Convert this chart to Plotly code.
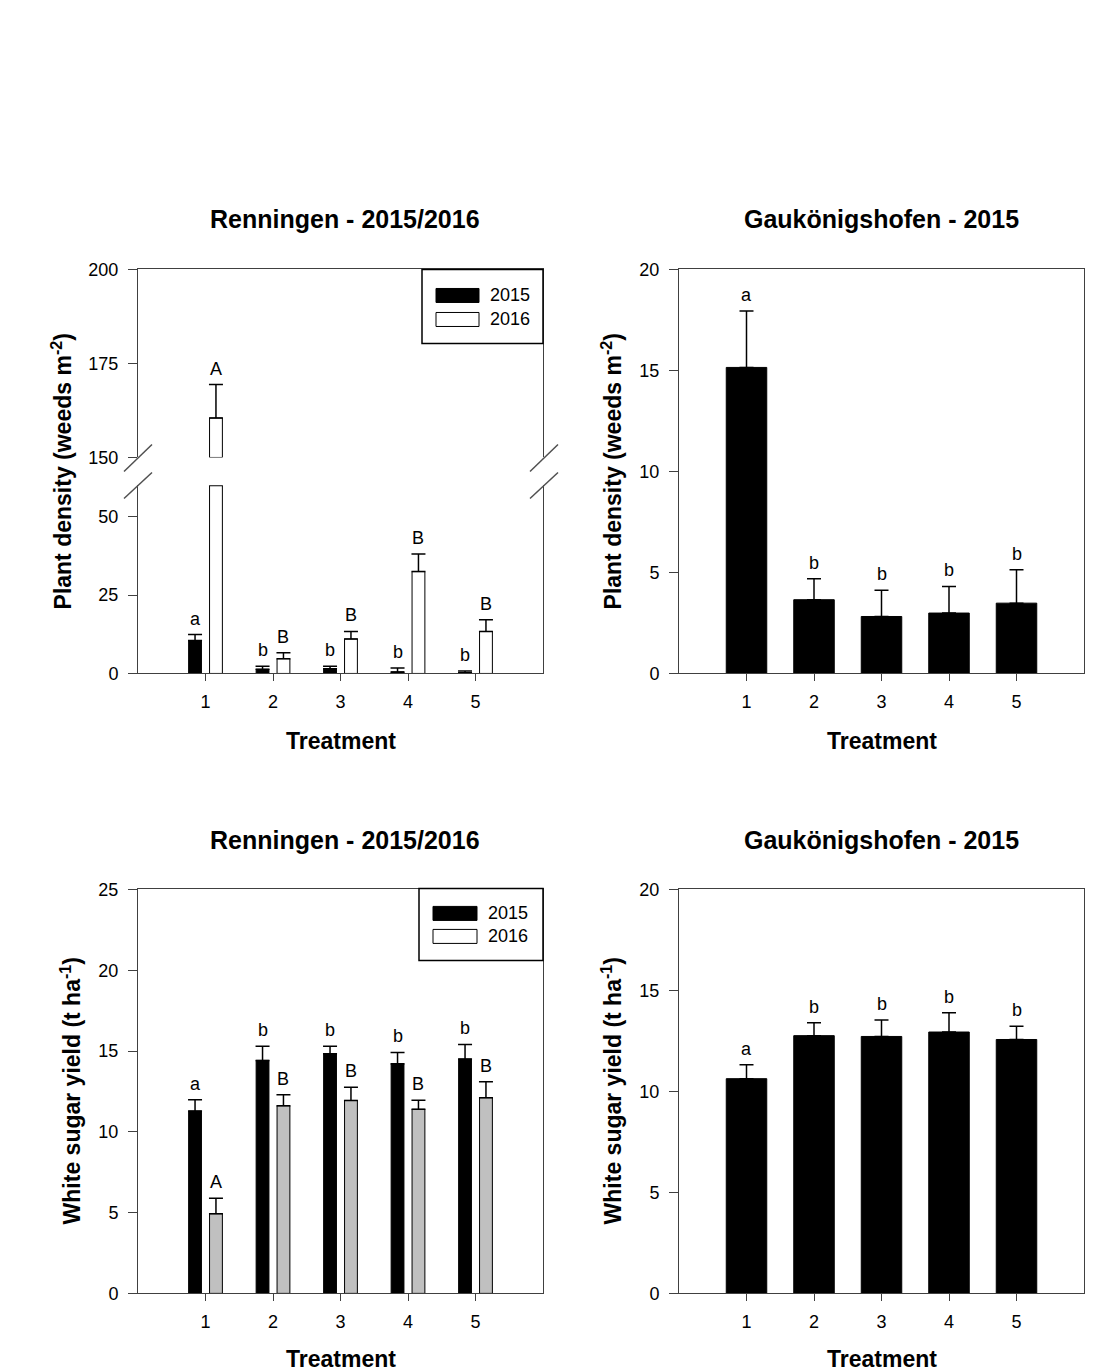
import plotly.graph_objects as go

W, H = 1114, 1371

# ---------------- data ----------------
treatments = [1, 2, 3, 4, 5]
tick_labels = ["1", "2", "3", "4", "5"]
years = ["2015", "2016"]

# Renningen - plant density (weeds m-2)
ren_dens_2015 = [10.5, 1.3, 1.5, 0.5, 0.2]
ren_dens_2015_se = [1.9, 1.0, 0.8, 1.2, 0.6]
ren_dens_2016 = [160.5, 4.7, 11.0, 32.5, 13.4]
ren_dens_2016_se = [8.9, 1.9, 2.4, 5.6, 3.7]
ren_dens_2015_letters = ["a", "b", "b", "b", "b"]
ren_dens_2016_letters = ["A", "B", "B", "B", "B"]

# Gaukönigshofen - plant density
gau_dens = [15.15, 3.65, 2.82, 2.99, 3.48]
gau_dens_se = [2.80, 1.04, 1.30, 1.32, 1.65]
gau_dens_letters = ["a", "b", "b", "b", "b"]

# Renningen - white sugar yield (t ha-1)
ren_yield_2015 = [11.28, 14.42, 14.83, 14.21, 14.50]
ren_yield_2015_se = [0.70, 0.88, 0.47, 0.70, 0.91]
ren_yield_2016 = [4.93, 11.61, 11.94, 11.39, 12.11]
ren_yield_2016_se = [0.95, 0.69, 0.81, 0.57, 0.99]
ren_yield_2015_letters = ["a", "b", "b", "b", "b"]
ren_yield_2016_letters = ["A", "B", "B", "B", "B"]

# Gaukönigshofen - white sugar yield
gau_yield = [10.63, 12.76, 12.72, 12.94, 12.57]
gau_yield_se = [0.69, 0.64, 0.81, 0.95, 0.66]
gau_yield_letters = ["a", "b", "b", "b", "b"]

# axis break for Renningen density
BREAK_LOW_MAX = 60
BREAK_HIGH_MIN = 150

# ---------------- styling ----------------
FONT = "Liberation Sans, Arial, sans-serif"
AXC = "#404040"
TICK_SIZE = 18
LET_SIZE = 18
LEG_SIZE = 18
TITLE_SIZE = 25
AXT_SIZE = 23

# vertical calibration of the rendered page
OFFY, SY = 9.5, 0.9855


def fx(px):
    return px / W


def fy(py):
    return 1 - ((py - OFFY) / SY) / H


fig = go.Figure()


def err(arr):
    return dict(type="data", array=arr, arrayminus=[0] * len(arr), symmetric=False,
                color="black", thickness=1.5, width=7)


OFF15, OFF16, BW = -0.25, 0.06, 0.19

# ---- Panel TL (broken axis) ----
low16 = [min(v, BREAK_LOW_MAX) for v in ren_dens_2016]
low16_err = [e if v <= BREAK_LOW_MAX else 0 for v, e in zip(ren_dens_2016, ren_dens_2016_se)]
hi16 = [(v - BREAK_HIGH_MIN) if v > BREAK_HIGH_MIN else None for v in ren_dens_2016]
hi16_err = [e if v > BREAK_HIGH_MIN else 0 for v, e in zip(ren_dens_2016, ren_dens_2016_se)]

fig.add_trace(go.Bar(x=treatments, y=ren_dens_2015, name="2015", width=BW, offset=OFF15,
                     marker=dict(color="black", line=dict(color="black", width=1)),
                     error_y=err(ren_dens_2015_se), xaxis="x", yaxis="y"))
fig.add_trace(go.Bar(x=treatments, y=low16, name="2016", width=BW, offset=OFF16,
                     marker=dict(color="white", line=dict(color="black", width=1)),
                     error_y=err(low16_err), xaxis="x", yaxis="y"))
fig.add_trace(go.Bar(x=treatments, y=hi16, base=[BREAK_HIGH_MIN] * 5, name="2016", width=BW,
                     offset=OFF16,
                     marker=dict(color="white", line=dict(color="black", width=1)),
                     error_y=err(hi16_err), xaxis="x2", yaxis="y2"))

# ---- Panel TR ----
fig.add_trace(go.Bar(x=treatments, y=gau_dens, name="2015", width=0.6,
                     marker=dict(color="black", line=dict(color="black", width=1)),
                     error_y=err(gau_dens_se), xaxis="x3", yaxis="y3"))

# ---- Panel BL ----
fig.add_trace(go.Bar(x=treatments, y=ren_yield_2015, name="2015", width=BW, offset=OFF15,
                     marker=dict(color="black", line=dict(color="black", width=1)),
                     error_y=err(ren_yield_2015_se), xaxis="x4", yaxis="y4"))
fig.add_trace(go.Bar(x=treatments, y=ren_yield_2016, name="2016", width=BW, offset=OFF16,
                     marker=dict(color="#c0c0c0", line=dict(color="black", width=1)),
                     error_y=err(ren_yield_2016_se), xaxis="x4", yaxis="y4"))

# ---- Panel BR ----
fig.add_trace(go.Bar(x=treatments, y=gau_yield, name="2015", width=0.6,
                     marker=dict(color="black", line=dict(color="black", width=1)),
                     error_y=err(gau_yield_se), xaxis="x5", yaxis="y5"))

# ---------------- axes ----------------
def xax(dom, anchor, mirror=True, ticks=True, side="bottom"):
    d = dict(domain=[fx(dom[0]), fx(dom[1])], anchor=anchor, range=[0, 6],
             tickvals=treatments, ticktext=tick_labels, showline=True, linecolor=AXC,
             linewidth=1, mirror=mirror, showgrid=False, zeroline=False, side=side,
             tickfont=dict(family=FONT, size=TICK_SIZE, color="black"))
    if ticks:
        d.update(ticks="outside", ticklen=7, tickwidth=1, tickcolor=AXC, ticklabelstandoff=5)
    else:
        d.update(ticks="", showticklabels=False)
    return d


def yax(dom, anchor, rng, tickvals):
    return dict(domain=[fy(dom[1]), fy(dom[0])], anchor=anchor, range=rng, tickvals=tickvals,
                showline=True, linecolor=AXC, linewidth=1, mirror=True, showgrid=False,
                zeroline=False, ticks="outside", ticklen=9, tickwidth=1, tickcolor=AXC,
                ticklabelstandoff=6,
                tickfont=dict(family=FONT, size=TICK_SIZE, color="black"))


LX = (138, 543)
RX = (679, 1084)
fig.update_layout(
    xaxis=xax(LX, "y", mirror=False),
    yaxis=yax((485, 673), "x", [0, BREAK_LOW_MAX], [0, 25, 50]),
    xaxis2=xax(LX, "y2", mirror=False, ticks=False, side="top"),
    yaxis2=yax((269, 457), "x2", [BREAK_HIGH_MIN, 200], [150, 175, 200]),
    xaxis3=xax(RX, "y3"),
    yaxis3=yax((269, 673), "x3", [0, 20], [0, 5, 10, 15, 20]),
    xaxis4=xax(LX, "y4"),
    yaxis4=yax((889, 1293), "x4", [0, 25], [0, 5, 10, 15, 20, 25]),
    xaxis5=xax(RX, "y5"),
    yaxis5=yax((889, 1293), "x5", [0, 20], [0, 5, 10, 15, 20]),
)

# ---------------- annotations ----------------
ann = []


def txt(x, y, text, size, bold=False, angle=0, xanchor="center", yanchor="middle"):
    ann.append(dict(x=fx(x), y=fy(y), xref="paper", yref="paper", text=text, showarrow=False,
                    textangle=angle, xanchor=xanchor, yanchor=yanchor,
                    font=dict(family=FONT, size=size, color="black",
                              weight="bold" if bold else "normal")))


# titles
txt(345, 219, "Renningen - 2015/2016", TITLE_SIZE, True)
txt(881.5, 219, "Gaukönigshofen - 2015", TITLE_SIZE, True)
txt(345, 840, "Renningen - 2015/2016", TITLE_SIZE, True)
txt(881.5, 840, "Gaukönigshofen - 2015", TITLE_SIZE, True)
# x titles
txt(341, 741, "Treatment", AXT_SIZE, True)
txt(881.5, 741, "Treatment", AXT_SIZE, True)
txt(341, 1359, "Treatment", AXT_SIZE, True)
txt(881.5, 1359, "Treatment", AXT_SIZE, True)
# y titles
txt(62, 471, "Plant density (weeds m<sup>-2</sup>)", AXT_SIZE, True, -90)
txt(612, 471, "Plant density (weeds m<sup>-2</sup>)", AXT_SIZE, True, -90)
txt(71, 1091, "White sugar yield (t ha<sup>-1</sup>)", AXT_SIZE, True, -90)
txt(612, 1091, "White sugar yield (t ha<sup>-1</sup>)", AXT_SIZE, True, -90)
# legend texts
txt(488, 295, years[0], LEG_SIZE, xanchor="left")
txt(488, 319, years[1], LEG_SIZE, xanchor="left")
txt(486, 913, years[0], LEG_SIZE, xanchor="left")
txt(486, 936, years[1], LEG_SIZE, xanchor="left")


def letters(xs, vals, ses, labs, xref, yref, off):
    for x, v, e, l in zip(xs, vals, ses, labs):
        ann.append(dict(x=x + off, y=v + e, xref=xref, yref=yref, text=l, showarrow=False,
                        xanchor="center", yanchor="bottom", yshift=4,
                        font=dict(family=FONT, size=LET_SIZE, color="black")))


c15 = OFF15 + BW / 2
c16 = OFF16 + BW / 2
letters(treatments, ren_dens_2015, ren_dens_2015_se, ren_dens_2015_letters, "x", "y", c15)
for t, v, e, l in zip(treatments, ren_dens_2016, ren_dens_2016_se, ren_dens_2016_letters):
    if v > BREAK_HIGH_MIN:
        letters([t], [v], [e], [l], "x2", "y2", c16)
    else:
        letters([t], [v], [e], [l], "x", "y", c16)
letters(treatments, gau_dens, gau_dens_se, gau_dens_letters, "x3", "y3", 0)
letters(treatments, ren_yield_2015, ren_yield_2015_se, ren_yield_2015_letters, "x4", "y4", c15)
letters(treatments, ren_yield_2016, ren_yield_2016_se, ren_yield_2016_letters, "x4", "y4", c16)
letters(treatments, gau_yield, gau_yield_se, gau_yield_letters, "x5", "y5", 0)

# ---------------- shapes (legend boxes, axis-break marks) ----------------
shapes = []


def rect(x0, y0, x1, y1, fill, lw=1.5, lc="black"):
    shapes.append(dict(type="rect", xref="paper", yref="paper", x0=fx(x0), x1=fx(x1),
                       y0=fy(y1), y1=fy(y0), fillcolor=fill, line=dict(color=lc, width=lw)))


def seg(x0, y0, x1, y1):
    shapes.append(dict(type="line", xref="paper", yref="paper", x0=fx(x0), y0=fy(y0),
                       x1=fx(x1), y1=fy(y1), line=dict(color="#505050", width=1.5)))


# legend TL
rect(422, 269, 543, 343, "white", 1.5)
rect(436, 288, 479, 302, "black", 1)
rect(436, 312, 479, 326, "white", 1)
# legend BL
rect(419, 888, 543, 960, "white", 1.5)
rect(433, 906, 477, 920, "black", 1)
rect(433, 929, 477, 943, "white", 1)
# break marks
for ax in (137, 543):
    seg(ax - 13, 471, ax + 15, 444)
    seg(ax - 13, 498, ax + 15, 472)

fig.update_layout(
    width=W, height=H, margin=dict(l=0, r=0, t=0, b=0),
    paper_bgcolor="white", plot_bgcolor="white",
    barmode="overlay", showlegend=False,
    annotations=ann, shapes=shapes,
    font=dict(family=FONT, color="black"),
)

post = ("document.documentElement.style.margin='0';"
        "document.documentElement.style.padding='0';"
        "document.documentElement.style.overflow='hidden';"
        "document.body.style.margin='0';document.body.style.padding='0';"
        "document.body.style.overflow='hidden';"
        "var d=document.getElementById('{plot_id}');"
        "d.style.position='absolute';d.style.top='0px';d.style.left='0px';")

fig.write_html("out.html", config={"displayModeBar": False}, post_script=post)
